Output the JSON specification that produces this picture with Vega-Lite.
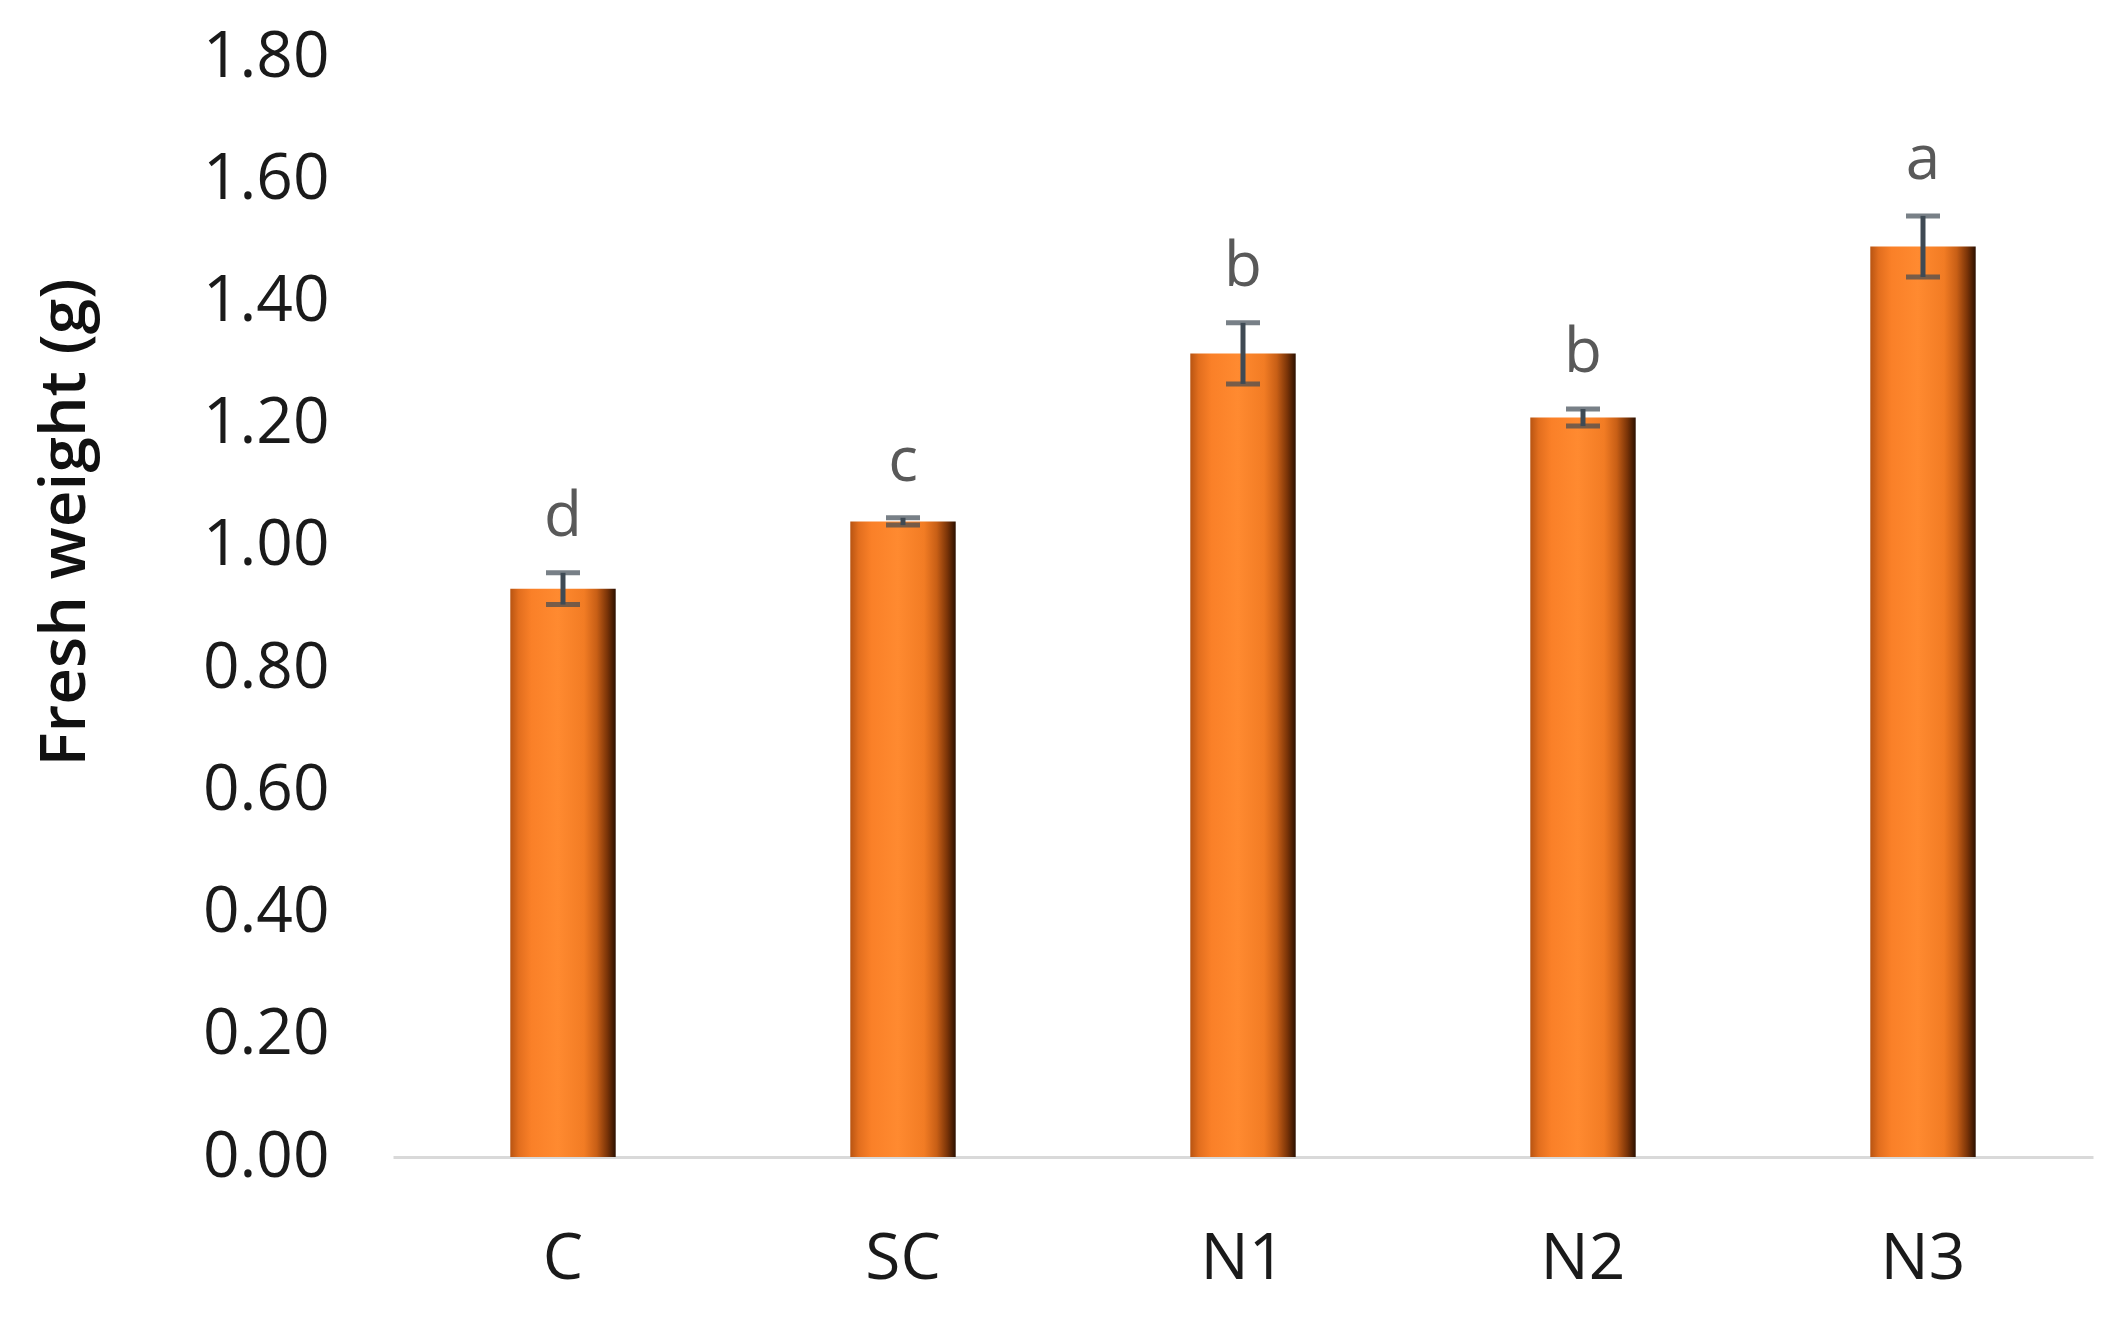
{
  "$schema": "https://vega.github.io/schema/vega-lite/v6.json",
  "autosize": {"type": "none"},
  "width": 1700,
  "height": 1100,
  "padding": {"left": 393, "top": 57, "right": 21, "bottom": 160},
  "background": "white",
  "config": {"view": {"stroke": null}, "font": "Open Sans"},
  "data": {"values": [
    {"group": "C", "mean": 0.93, "se": 0.026, "letter": "d"},
    {"group": "SC", "mean": 1.04, "se": 0.006, "letter": "c"},
    {"group": "N1", "mean": 1.315, "se": 0.05, "letter": "b"},
    {"group": "N2", "mean": 1.21, "se": 0.014, "letter": "b"},
    {"group": "N3", "mean": 1.49, "se": 0.05, "letter": "a"}
  ]},
  "transform": [
    {"calculate": "datum.mean + datum.se", "as": "hi"},
    {"calculate": "datum.mean - datum.se", "as": "lo"}
  ],
  "encoding": {
    "x": {
      "field": "group", "type": "nominal", "sort": null,
      "scale": {"paddingInner": 0.69, "paddingOuter": 0.345},
      "axis": {
        "title": null, "labelAngle": 0, "ticks": false,
        "domainColor": "#D9D9D9", "domainWidth": 3,
        "labelFont": "Open Sans", "labelFontSize": 64, "labelColor": "#1a1a1a",
        "labelPadding": 70
      }
    }
  },
  "layer": [
    {
      "mark": {
        "type": "bar",
        "color": {
          "gradient": "linear", "x1": 0, "x2": 1, "y1": 0, "y2": 0,
          "stops": [
            {"offset": 0, "color": "#B85412"},
            {"offset": 0.08, "color": "#E26E1E"},
            {"offset": 0.2, "color": "#FA8028"},
            {"offset": 0.45, "color": "#FF8A30"},
            {"offset": 0.7, "color": "#F27C24"},
            {"offset": 0.82, "color": "#C85F16"},
            {"offset": 0.92, "color": "#7A3408"},
            {"offset": 1, "color": "#2C1000"}
          ]
        }
      },
      "encoding": {
        "y": {
          "field": "mean", "type": "quantitative",
          "scale": {"domain": [0, 1.8], "nice": false},
          "axis": {
            "title": "Fresh weight (g)",
            "values": [0, 0.2, 0.4, 0.6, 0.8, 1.0, 1.2, 1.4, 1.6, 1.8],
            "format": ".2f", "grid": false, "ticks": false, "domain": false,
            "labelFont": "Open Sans", "labelFontSize": 64, "labelColor": "#1a1a1a",
            "labelPadding": 64,
            "titleFont": "Open Sans", "titleFontSize": 64, "titleFontWeight": 600,
            "titleColor": "#111111", "titleY": 465, "titleX": -296, "titleAngle": -90,
            "titleBaseline": "bottom", "titleAlign": "center"
          }
        }
      }
    },
    {
      "mark": {"type": "rule", "color": "#3F4A54", "strokeWidth": 5},
      "encoding": {
        "y": {"field": "lo", "type": "quantitative"},
        "y2": {"field": "hi"}
      }
    },
    {
      "mark": {"type": "tick", "color": "#3F4A54", "size": 34, "thickness": 5},
      "encoding": {"y": {"field": "hi", "type": "quantitative"}}
    },
    {
      "mark": {"type": "tick", "color": "#3F4A54", "size": 34, "thickness": 5},
      "encoding": {"y": {"field": "lo", "type": "quantitative"}}
    },
    {
      "mark": {"type": "text", "font": "Open Sans", "fontSize": 62, "color": "#595959", "baseline": "bottom", "dy": -24},
      "encoding": {
        "y": {"field": "hi", "type": "quantitative"},
        "text": {"field": "letter"}
      }
    }
  ]
}
